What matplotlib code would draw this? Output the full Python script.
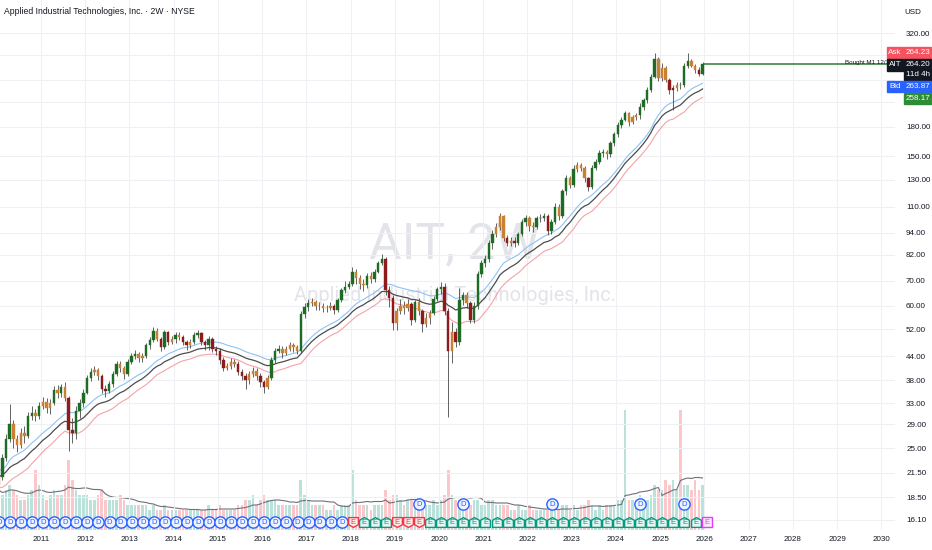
import matplotlib
matplotlib.use("Agg")
import matplotlib.pyplot as plt
import numpy as np
import pandas as pd
from matplotlib.path import Path
from matplotlib.patches import Rectangle
from matplotlib.ticker import FixedLocator, NullLocator
from matplotlib.transforms import blended_transform_factory

NARROW = ["Liberation Sans Narrow", "Liberation Sans", "DejaVu Sans"]
plt.rcParams["font.family"] = NARROW

# monthly bars, Jan 2010 .. Dec 2025
first_year = 2010
first_open = 20.0
closes = [
    21.0, 23.5, 26.5, 29.0, 26.5, 25.5, 27.5, 27.0, 30.5, 31.0, 30.4, 32.5,
    33.3, 32.0, 33.0, 35.8, 35.0, 36.5, 34.0, 28.0, 27.5, 31.5, 33.0, 35.2,
    38.5, 40.0, 40.5, 39.0, 36.0, 35.5, 37.0, 39.5, 42.0, 41.0, 39.5, 42.5,
    44.0, 44.5, 43.5, 44.0, 47.0, 48.5, 51.5, 49.0, 46.5, 51.0, 48.0, 49.0,
    50.0, 49.5, 48.0, 47.0, 48.0, 50.0, 50.8, 48.0, 47.0, 49.0, 46.0, 45.5,
    43.0, 41.0, 41.5, 42.5, 42.0, 40.0, 38.9, 38.0, 39.5, 40.3, 39.0, 37.5,
    36.5, 38.5, 43.0, 45.5, 46.0, 45.0, 46.0, 47.0, 46.5, 45.5, 57.0, 59.5,
    61.0, 61.5, 60.0, 60.0, 59.0, 59.0, 60.0, 58.5, 62.0, 66.0, 67.5, 68.5,
    74.0, 71.0, 68.5, 68.0, 72.0, 70.5, 74.0, 78.0, 80.0, 66.0, 63.0, 54.0,
    58.0, 60.0, 59.0, 60.5, 55.0, 61.5, 58.0, 53.5, 55.5, 57.5, 62.5, 66.5,
    67.5, 58.0, 45.5, 51.0, 48.0, 62.0, 64.0, 61.0, 55.0, 60.0, 73.0, 78.0,
    80.0, 88.0, 93.0, 97.0, 104.0, 91.0, 88.0, 89.5, 88.0, 93.0, 100.0, 102.5,
    98.0, 97.0, 102.5, 103.0, 104.0, 95.0, 100.5, 110.0, 104.0, 121.0, 131.0, 126.0,
    139.0, 142.0, 140.0, 131.0, 124.0, 140.0, 145.0, 153.0, 154.0, 152.0, 163.0, 172.0,
    182.0, 188.0, 196.0, 185.0, 191.0, 193.0, 203.0, 212.0, 226.0, 245.0, 272.0, 243.0,
    258.0, 240.0, 225.0, 229.0, 233.0, 232.0, 262.0, 270.0, 262.0, 255.0, 249.0, 264.2,
]
highs = [
    21.8, 24.2, 27.3, 32.8, 29.8, 27.2, 28.3, 28.6, 31.2, 32.4, 31.9, 33.3,
    34.2, 34.0, 33.8, 36.6, 36.8, 37.2, 37.6, 34.5, 30.2, 32.5, 33.9, 36.0,
    39.3, 40.9, 41.5, 41.0, 39.5, 36.8, 37.9, 40.2, 42.8, 42.8, 41.5, 43.2,
    44.9, 45.6, 45.2, 44.8, 47.8, 49.6, 52.5, 52.2, 49.6, 51.8, 51.5, 49.9,
    51.0, 50.9, 50.1, 48.6, 48.9, 50.9, 51.8, 51.2, 48.7, 49.9, 49.4, 46.8,
    46.2, 43.9, 42.3, 43.4, 43.2, 42.6, 40.7, 39.6, 40.2, 41.3, 41.0, 39.8,
    38.1, 39.2, 43.9, 46.4, 47.2, 46.8, 46.9, 48.0, 47.6, 47.1, 58.2, 61.0,
    62.4, 63.0, 62.3, 61.5, 61.0, 60.3, 61.4, 60.7, 62.9, 66.9, 69.8, 70.0,
    76.0, 75.2, 72.4, 70.8, 73.2, 73.9, 75.3, 79.1, 82.3, 80.8, 67.8, 64.2,
    59.3, 62.6, 61.7, 62.4, 61.3, 62.3, 62.8, 58.9, 57.4, 58.6, 63.6, 67.3,
    69.6, 69.0, 59.3, 54.2, 52.3, 66.9, 65.3, 65.4, 61.8, 61.2, 74.4, 79.3,
    82.1, 89.7, 95.3, 99.4, 106.1, 104.9, 92.8, 91.5, 91.3, 94.6, 102.4, 104.7,
    104.1, 100.3, 104.3, 105.6, 106.3, 105.1, 102.1, 113.0, 111.7, 122.9, 133.5, 132.8,
    141.9, 144.6, 143.8, 141.7, 132.5, 142.5, 147.6, 156.0, 157.1, 156.4, 165.2, 174.6,
    185.2, 190.6, 198.6, 197.4, 193.7, 196.1, 208.5, 215.3, 229.4, 248.6, 282.5, 276.1,
    265.8, 262.1, 243.2, 232.5, 236.9, 236.4, 266.8, 282.4, 272.7, 265.1, 259.3, 267.5,
]
lows = [
    19.6, 20.6, 23.1, 26.0, 25.0, 24.4, 25.0, 25.9, 26.6, 29.8, 29.5, 30.0,
    31.8, 31.0, 30.8, 32.6, 34.0, 34.2, 33.5, 24.6, 25.8, 26.5, 30.1, 32.3,
    34.8, 37.9, 39.2, 38.0, 35.0, 34.2, 35.0, 36.4, 39.0, 40.0, 38.2, 39.0,
    41.9, 43.2, 42.4, 42.5, 43.4, 46.0, 48.0, 48.2, 45.5, 46.0, 47.2, 47.4,
    47.8, 48.5, 47.1, 45.8, 46.2, 47.5, 49.1, 47.0, 45.6, 45.8, 45.2, 44.4,
    42.0, 40.2, 40.4, 40.7, 41.1, 39.2, 38.0, 35.9, 37.1, 38.8, 38.1, 36.4,
    35.2, 35.9, 38.0, 42.2, 44.8, 43.6, 44.3, 45.3, 45.2, 44.5, 44.9, 55.8,
    58.2, 59.8, 58.6, 58.4, 57.6, 57.8, 58.3, 56.9, 57.8, 61.2, 64.8, 66.4,
    67.8, 68.7, 66.3, 65.6, 67.0, 69.1, 69.4, 73.2, 77.1, 64.1, 59.6, 51.8,
    51.6, 56.9, 57.0, 58.1, 53.4, 54.3, 56.6, 51.2, 52.6, 53.6, 56.8, 61.7,
    64.3, 56.8, 30.3, 42.1, 46.5, 47.1, 60.1, 59.2, 53.8, 54.0, 58.9, 71.5,
    75.9, 78.3, 85.2, 91.4, 95.5, 89.4, 86.3, 86.4, 86.2, 86.9, 91.8, 98.0,
    95.1, 94.6, 95.8, 100.5, 100.8, 92.4, 93.2, 99.3, 101.5, 102.5, 118.6, 123.6,
    124.1, 136.2, 136.8, 128.6, 121.5, 122.6, 138.3, 143.1, 149.9, 147.3, 149.7, 160.2,
    169.0, 178.6, 186.2, 180.7, 182.6, 187.5, 189.3, 199.4, 208.1, 222.3, 242.4, 238.1,
    238.6, 236.4, 220.6, 199.9, 224.1, 227.0, 229.5, 257.6, 259.4, 250.3, 245.1, 247.3,
]
volumes = [  # millions of shares
    8, 7, 8, 9, 8, 7, 6, 6, 7, 8, 12, 9,
    7, 6, 7, 8, 7, 7, 9, 14, 10, 8, 7, 7,
    7, 6, 6, 7, 8, 6, 6, 6, 6, 7, 6, 5,
    5, 5, 5, 5, 5, 4, 5, 4, 4, 5, 4, 4,
    4, 4, 4, 4, 4, 4, 4, 4, 4, 5, 4, 4,
    5, 4, 4, 4, 4, 5, 5, 6, 6, 7, 5, 6,
    7, 6, 6, 6, 5, 5, 5, 5, 5, 5, 10, 7,
    6, 5, 5, 5, 5, 4, 4, 5, 4, 5, 5, 5,
    12, 6, 5, 5, 5, 4, 5, 5, 5, 8, 6, 7,
    7, 6, 5, 6, 6, 5, 5, 6, 5, 5, 6, 5,
    6, 7, 12, 7, 6, 6, 5, 5, 5, 6, 6, 5,
    5, 6, 6, 5, 5, 5, 5, 4, 4, 5, 4, 4,
    5, 4, 4, 4, 4, 4, 4, 4, 4, 5, 5, 4,
    5, 4, 5, 5, 6, 5, 4, 5, 4, 5, 5, 5,
    6, 6, 24, 6, 6, 6, 7, 6, 6, 7, 9, 8,
    8, 10, 9, 10, 8, 24, 9, 9, 8, 10, 8, 9,
]

price_ticks = [16.10, 18.50, 21.50, 25.00, 29.00, 33.00, 38.00, 44.00, 52.00, 60.00,
               70.00, 82.00, 94.00, 110.00, 130.00, 150.00, 180.00, 210.00, 240.00,
               280.00, 320.00]
hidden_ticks = [210.00, 240.00, 280.00]  # covered by the quote tags
year_ticks = list(range(2011, 2031))

# events: quarterly dividends (D) up to 2018, earnings (E) after
event_start = 2010.05
dividend_count = 32
earnings_kinds = "RGGGRRRGGGGGGGGGGGGGGGGGGGGGGGGGP"
extra_dividends = [2019.55, 2020.55, 2022.55, 2024.55, 2025.55]

last_price = 264.20
quotes = {"ask": "264.23", "last": "264.20", "bid": "263.87", "avg": "258.17"}

# ---------------------------------------------------------------------------
df = pd.DataFrame({"close": closes, "high": highs, "low": lows, "vol": volumes})
df["open"] = df["close"].shift(1).fillna(first_open)
df["x"] = first_year + (np.arange(len(df)) + 0.5) / 12.0

ema_hi = df["high"].ewm(span=24, adjust=False).mean()
ema_mid = df["close"].ewm(span=24, adjust=False).mean()
ema_lo = df["low"].ewm(span=24, adjust=False).mean()
vol_ma = df["vol"].rolling(10, min_periods=1).mean()

# impulse-style bar colouring
ema_fast = df["close"].ewm(span=7, adjust=False).mean()
macd = df["close"].ewm(span=6, adjust=False).mean() - df["close"].ewm(span=13, adjust=False).mean()
hist = macd - macd.ewm(span=5, adjust=False).mean()
bull = (ema_fast.diff() > 0) & (hist.diff() > 0)
bear = (ema_fast.diff() < 0) & (hist.diff() < 0)
body_colors = np.where(bull, "#1e6b25", np.where(bear, "#8e1b1b", "#c98032"))

W, H = 932, 550
fig = plt.figure(figsize=(W / 100, H / 100), dpi=100, facecolor="white")
plot_w, plot_h = 895, 530
ax = fig.add_axes([0, (H - plot_h) / H, plot_w / W, plot_h / H])
ax2 = ax.twinx()
ax.set_zorder(ax2.get_zorder() + 1)
ax.patch.set_visible(False)

xmin, xmax = 2010.073, 2030.31
ax.set_xlim(xmin, xmax)
ax.set_yscale("log")
ax.set_ylim(15.14, 391.9)

# volume pane (overlay, bottom)
ax2.set_ylim(0, 106)
ax2.axis("off")
vol_colors = np.where(df["close"] >= df["open"], "#089981", "#f23645")
ax2.bar(df["x"], df["vol"], width=0.06, color=vol_colors, alpha=0.28, linewidth=0)
ax2.plot(df["x"], vol_ma, color="#6f717a", lw=0.8)
ax2.text(0.508, 0.538, "AIT, 2W", transform=ax2.transAxes, ha="center", va="center",
         fontsize=36, color="#e2e4e9", family=["Roboto", "DejaVu Sans"], zorder=0)
ax2.text(0.508, 0.443, "Applied Industrial Technologies, Inc.", transform=ax2.transAxes,
         ha="center", va="center", fontsize=14.5, color="#e2e4e9",
         family=["Roboto", "DejaVu Sans"], zorder=0)

# moving-average bands
ax.plot(df["x"], ema_hi, color="#8cc3f5", lw=0.8, zorder=3)
ax.plot(df["x"], ema_mid, color="#4d4d4d", lw=0.9, zorder=3)
ax.plot(df["x"], ema_lo, color="#f4a3a8", lw=0.8, zorder=3)

# candles
ax.vlines(df["x"], df["low"], df["high"], color="#4a4a4a", lw=0.6, zorder=4)
body_lo = np.minimum(df["open"], df["close"])
body_hi = np.maximum(df["open"], df["close"])
ax.bar(df["x"], body_hi - body_lo, bottom=body_lo, width=0.055, color=body_colors,
       edgecolor=body_colors, linewidth=0.3, zorder=5)

# position line
ax.hlines(last_price, df["x"].iloc[-1], xmax, color="#2e7d32", lw=1.1, zorder=4)

# axes styling
ax.yaxis.set_major_locator(FixedLocator(price_ticks))
ax.yaxis.set_minor_locator(NullLocator())
ax.set_yticklabels(["" if t in hidden_ticks else f"{t:.2f}" for t in price_ticks])
ax.yaxis.tick_right()
ax.set_xticks(year_ticks)
ax.set_xticklabels([str(y) for y in year_ticks])
ax.tick_params(axis="y", length=0, pad=8, labelsize=5.8, labelcolor="#131722")
ax.tick_params(axis="x", length=0, pad=4, labelsize=5.8, labelcolor="#131722")
ax.grid(True, color="#eef0f4", lw=0.8)
ax.set_axisbelow(True)
for s in ax.spines.values():
    s.set_visible(False)

# event markers
trans = blended_transform_factory(ax.transData, ax.transAxes)
row_y = (plot_h - 522) / plot_h
upper_y = (plot_h - 504) / plot_h
shield_down = Path([(-1, 1), (1, 1), (1, -0.45), (0, -1), (-1, -0.45), (-1, 1)],
                   [1, 2, 2, 2, 2, 79])
shield_up = Path([(-1, -1), (1, -1), (1, 0.45), (0, 1), (-1, 0.45), (-1, -1)],
                 [1, 2, 2, 2, 2, 79])
box = Path([(-1, -1), (1, -1), (1, 1), (-1, 1), (-1, -1)], [1, 2, 2, 2, 79])

div_x = event_start + 0.25 * np.arange(dividend_count)
ax.scatter(div_x, [row_y] * len(div_x), transform=trans, s=66, marker="o",
           facecolor="#eef3ff", edgecolor="#2962ff", lw=1, zorder=6)
for xv in div_x:
    ax.text(xv, row_y, "D", transform=trans, ha="center", va="center", fontsize=5.5,
            color="#2962ff", zorder=7, clip_on=True)
ax.scatter(extra_dividends, [upper_y] * len(extra_dividends), transform=trans, s=66,
           marker="o", facecolor="#eef3ff", edgecolor="#2962ff", lw=1, zorder=6)
for xv in extra_dividends:
    ax.text(xv, upper_y, "D", transform=trans, ha="center", va="center", fontsize=5.5,
            color="#2962ff", zorder=7)

kind_style = {"G": (shield_up, "#089981", "#e6f5f1"),
              "R": (shield_down, "#f23645", "#fdecec"),
              "P": (box, "#e040fb", "#fbe9fe")}
for i, k in enumerate(earnings_kinds):
    xv = event_start + 0.25 * (dividend_count + i)
    mk, ec, fc = kind_style[k]
    ax.scatter([xv], [row_y], transform=trans, s=50, marker=mk, facecolor=fc,
               edgecolor=ec, lw=1, zorder=6)
    ax.text(xv, row_y, "E", transform=trans, ha="center", va="center", fontsize=5.5,
            color=ec, zorder=7)

# overlay in pixel coordinates for header and price-scale labels
ov = fig.add_axes([0, 0, 1, 1])
ov.set_xlim(0, W)
ov.set_ylim(H, 0)
ov.axis("off")
ov.set_zorder(10)

ov.text(4, 12, "Applied Industrial Technologies, Inc. · 2W · NYSE", ha="left",
        va="center", fontsize=6.2, color="#131722")
ov.text(913, 12, "USD", ha="center", va="center", fontsize=5.8, color="#131722")
ov.text(845, 62.5, "Bought M1 12/1", ha="left", va="center", fontsize=4.5,
        color="#131722", zorder=1)


def tag(x, y, w, h, color, lines):
    ov.add_patch(Rectangle((x, y), w, h, color=color, zorder=2))
    step = h / len(lines)
    for j, s in enumerate(lines):
        ov.text(x + w / 2, y + step * (j + 0.5), s, ha="center", va="center",
                fontsize=5.8, color="white", zorder=3)


tag(887, 47, 16, 11, "#f7525f", ["Ask"])
tag(904, 47, 27, 11, "#f7525f", [quotes["ask"]])
tag(887, 58.5, 16, 12, "#131722", ["AIT"])
tag(904, 58.5, 27, 22, "#131722", [quotes["last"], "11d 4h"])
tag(887, 81, 16, 11, "#2962ff", ["Bid"])
tag(904, 81, 27, 11, "#2962ff", [quotes["bid"]])
tag(904, 92.5, 27, 11.5, "#2e8b36", [quotes["avg"]])

fig.savefig("out.png", dpi=100, facecolor="white")
